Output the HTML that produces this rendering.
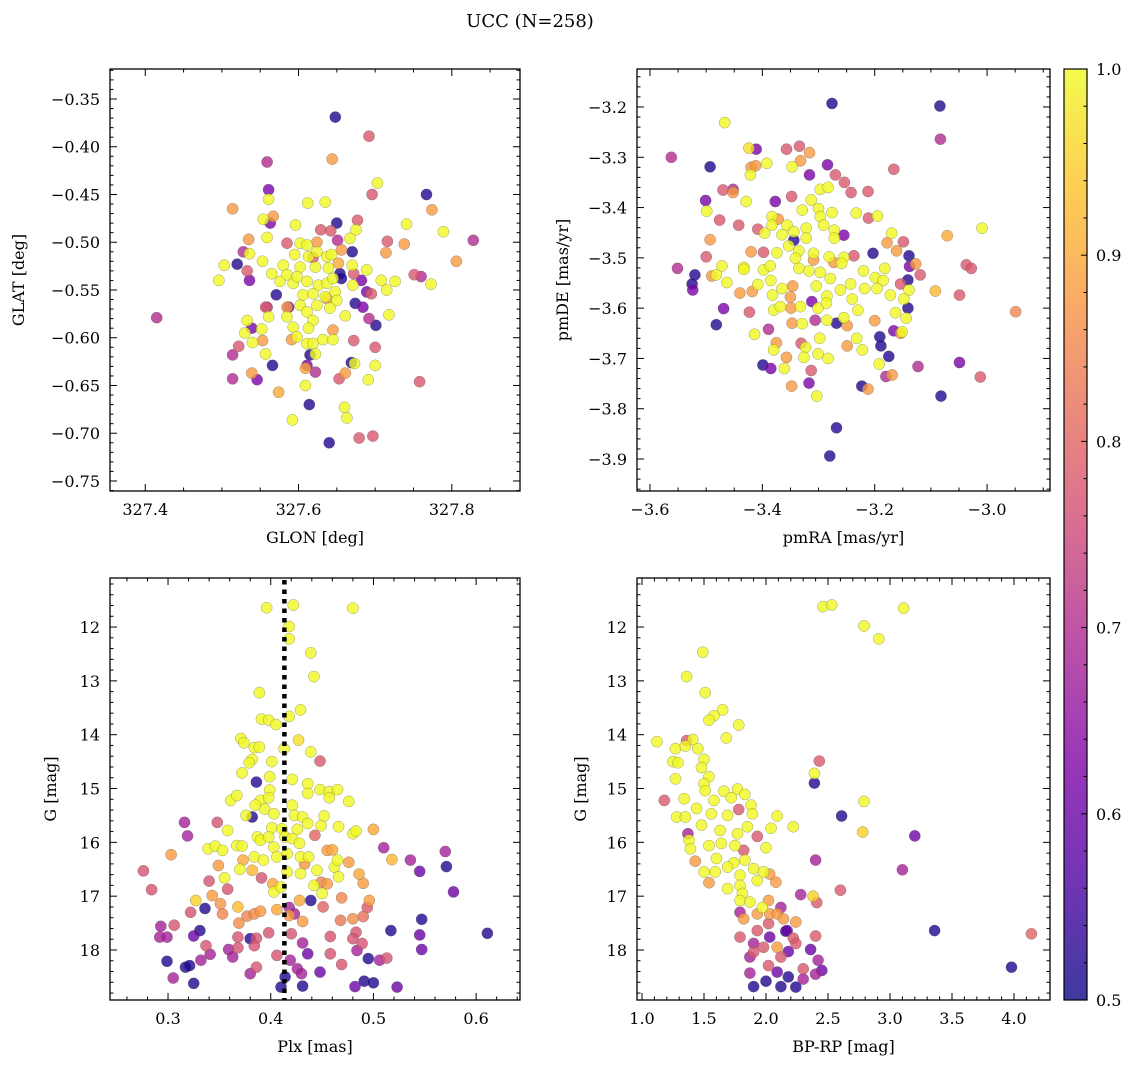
<!DOCTYPE html>
<html><head><meta charset="utf-8"><style>
html,body{margin:0;padding:0;background:#fff;}
svg{display:block;font-family:"DejaVu Serif","Liberation Serif",serif;}
</style></head><body>
<svg id="fig" width="1136" height="1068" viewBox="0 0 1136 1068" xmlns="http://www.w3.org/2000/svg">
<text x="530" y="27" text-anchor="middle" font-size="18">UCC (N=258)</text>
<defs>
<linearGradient id="cbgrad" x1="0" y1="1" x2="0" y2="0"></linearGradient>
</defs>
</svg>
<script>
// ---------- Panel 1: GLON / GLAT ----------
const p1Lon=[327.648,327.767,327.650,327.670,327.520,327.654,327.656,327.571,327.674,327.701,327.566,327.669,327.614,327.640,327.615,
327.561,327.563,327.536,327.539,327.684,327.682,327.689,327.546,327.611,327.587,
327.415,327.559,327.828,327.528,327.651,327.760,327.514,327.514,327.692,327.622,327.559,
327.692,327.696,327.677,327.629,327.642,327.716,327.585,327.533,327.672,327.751,327.522,327.557,327.672,327.700,327.653,327.758,327.679,327.697,327.695,327.619,
327.644,327.514,327.567,327.774,327.535,327.714,327.738,327.806,327.553,327.591,327.539,327.661,327.574,327.609,327.645,327.624,327.652,327.656,327.585,327.637,
327.703,327.612,327.635,327.561,327.554,327.596,327.559,327.675,327.667,327.741,327.789,327.536,327.503,327.496,327.553,327.565,327.580,327.602,327.611,327.595,327.613,327.624,327.637,327.643,327.602,327.622,327.639,327.670,327.689,327.576,327.593,327.611,327.626,327.637,327.648,327.671,327.708,327.715,327.726,327.773,327.606,327.619,327.635,327.650,327.602,327.624,327.641,327.611,327.585,327.561,327.533,327.619,327.661,327.718,327.593,327.613,327.552,327.530,327.598,327.611,327.619,327.632,327.645,327.540,327.557,327.622,327.673,327.700,327.609,327.691,327.660,327.663,327.592,327.645,327.585,327.598];
const p1Lat=[-0.369,-0.450,-0.480,-0.510,-0.523,-0.533,-0.538,-0.555,-0.564,-0.587,-0.629,-0.626,-0.670,-0.710,-0.618,
-0.445,-0.480,-0.540,-0.590,-0.568,-0.540,-0.552,-0.644,-0.629,-0.568,
-0.579,-0.416,-0.498,-0.510,-0.498,-0.536,-0.643,-0.618,-0.580,-0.636,-0.568,
-0.389,-0.450,-0.477,-0.487,-0.488,-0.499,-0.501,-0.530,-0.533,-0.534,-0.609,-0.568,-0.603,-0.610,-0.643,-0.646,-0.705,-0.703,-0.554,-0.516,
-0.413,-0.465,-0.473,-0.466,-0.497,-0.511,-0.502,-0.520,-0.603,-0.602,-0.637,-0.637,-0.657,-0.632,-0.592,-0.500,-0.522,-0.508,-0.568,-0.559,
-0.438,-0.459,-0.458,-0.455,-0.476,-0.482,-0.495,-0.487,-0.496,-0.481,-0.489,-0.512,-0.524,-0.540,-0.520,-0.533,-0.524,-0.501,-0.503,-0.513,-0.515,-0.510,-0.515,-0.513,-0.526,-0.526,-0.527,-0.524,-0.529,-0.541,-0.543,-0.541,-0.545,-0.543,-0.552,-0.545,-0.540,-0.550,-0.541,-0.544,-0.555,-0.554,-0.557,-0.561,-0.566,-0.566,-0.569,-0.573,-0.578,-0.578,-0.582,-0.582,-0.577,-0.576,-0.589,-0.590,-0.591,-0.595,-0.599,-0.606,-0.606,-0.602,-0.602,-0.605,-0.617,-0.617,-0.627,-0.629,-0.650,-0.644,-0.673,-0.684,-0.686,-0.538,-0.534,-0.536];
const p1Prob=[0.52,0.52,0.52,0.52,0.52,0.52,0.52,0.52,0.52,0.52,0.52,0.52,0.52,0.52,0.52,
0.62,0.62,0.62,0.62,0.62,0.62,0.62,0.62,0.62,0.62,
0.70,0.70,0.70,0.70,0.70,0.70,0.70,0.70,0.70,0.70,0.70,
0.78,0.78,0.78,0.78,0.78,0.78,0.78,0.78,0.78,0.78,0.78,0.78,0.78,0.78,0.78,0.78,0.78,0.78,0.78,0.78,
0.88,0.88,0.88,0.88,0.88,0.88,0.88,0.88,0.88,0.88,0.88,0.88,0.90,0.90,0.88,0.88,0.90,0.88,0.88,0.88,
1,1,1,1,1,1,1,1,1,1,1,1,1,1,1,1,1,1,1,1,1,1,1,1,1,1,1,1,1,1,1,1,1,1,1,1,1,1,1,1,1,1,1,1,1,1,1,1,1,1,1,1,1,1,1,1,1,1,1,1,1,1,1,1,1,1,1,1,1,1,1,1,1,1,1,1,1,1,1];

// ---------- Panel 2: pmRA / pmDE ----------
const p2Ra=[-3.276,-3.084,-3.493,-3.520,-3.525,-3.482,-3.203,-3.139,-3.141,-3.141,-3.191,-3.189,-3.175,-3.223,-3.082,-3.268,-3.280,-3.399,-3.268,-3.344,
-3.411,-3.284,-3.316,-3.377,-3.501,-3.469,-3.524,-3.385,-3.317,-3.049,-3.312,-3.255,-3.138,-3.166,
-3.562,-3.083,-3.551,-3.452,-3.123,-3.180,-3.306,-3.389,
-3.357,-3.334,-3.166,-3.470,-3.348,-3.242,-3.212,-3.476,-3.442,-3.408,-3.211,-3.149,-3.398,-3.500,-3.037,-3.028,-3.119,-3.049,-3.423,-3.331,-3.313,-3.012,-3.237,-3.270,-3.254,-3.154,
-3.316,-3.420,-3.412,-3.332,-3.452,-3.493,-3.420,-3.178,-3.161,-3.071,-3.127,-3.490,-3.440,-3.418,-3.346,-3.350,-3.349,-3.347,-3.249,-3.200,-3.249,-3.375,-3.357,-3.348,-3.212,-3.169,-2.949,-3.092,-3.372,-3.309,-3.273,-3.154,
-3.467,-3.424,-3.392,-3.421,-3.347,-3.297,-3.283,-3.429,-3.499,-3.313,-3.329,-3.300,-3.276,-3.233,-3.195,-3.383,-3.383,-3.356,-3.344,-3.322,-3.297,-3.291,-3.272,-3.396,-3.365,-3.322,-3.272,-3.170,-3.353,-3.374,-3.335,-3.309,-3.281,-3.255,-3.341,-3.472,-3.433,-3.398,-3.386,-3.335,-3.317,-3.297,-3.259,-3.220,-3.182,-3.482,-3.463,-3.385,-3.408,-3.279,-3.243,-3.199,-3.185,-3.365,-3.304,-3.261,-3.218,-3.196,-3.139,-3.382,-3.172,-3.285,-3.240,-3.148,-3.380,-3.368,-3.332,-3.301,-3.286,-3.230,-3.163,-3.144,-3.255,-3.329,-3.285,-3.414,-3.298,-3.232,-3.222,-3.323,-3.380,-3.326,-3.301,-3.283,-3.361,-3.192,-3.303,-3.009,-3.151,-3.433];
const p2De=[-3.193,-3.198,-3.319,-3.534,-3.552,-3.633,-3.491,-3.496,-3.544,-3.600,-3.657,-3.675,-3.696,-3.755,-3.775,-3.838,-3.894,-3.713,-3.630,-3.465,
-3.284,-3.315,-3.335,-3.388,-3.386,-3.601,-3.564,-3.720,-3.749,-3.708,-3.587,-3.455,-3.517,-3.645,
-3.300,-3.264,-3.521,-3.364,-3.716,-3.736,-3.624,-3.642,
-3.284,-3.278,-3.324,-3.365,-3.378,-3.370,-3.368,-3.425,-3.435,-3.443,-3.421,-3.468,-3.489,-3.498,-3.514,-3.521,-3.534,-3.574,-3.608,-3.670,-3.724,-3.737,-3.496,-3.335,-3.350,-3.552,
-3.291,-3.320,-3.317,-3.307,-3.370,-3.464,-3.488,-3.470,-3.486,-3.456,-3.512,-3.536,-3.570,-3.567,-3.556,-3.578,-3.600,-3.630,-3.635,-3.625,-3.675,-3.669,-3.698,-3.755,-3.761,-3.733,-3.607,-3.566,-3.423,-3.504,-3.509,-3.650,
-3.231,-3.282,-3.312,-3.335,-3.319,-3.364,-3.360,-3.388,-3.407,-3.385,-3.405,-3.402,-3.410,-3.411,-3.417,-3.418,-3.435,-3.435,-3.448,-3.441,-3.418,-3.435,-3.445,-3.451,-3.454,-3.461,-3.461,-3.451,-3.476,-3.490,-3.486,-3.491,-3.498,-3.499,-3.501,-3.516,-3.519,-3.524,-3.516,-3.521,-3.526,-3.529,-3.511,-3.526,-3.521,-3.534,-3.549,-3.545,-3.553,-3.541,-3.552,-3.539,-3.545,-3.561,-3.556,-3.564,-3.561,-3.561,-3.564,-3.574,-3.574,-3.576,-3.582,-3.582,-3.604,-3.597,-3.597,-3.600,-3.590,-3.604,-3.609,-3.620,-3.619,-3.631,-3.624,-3.652,-3.660,-3.660,-3.683,-3.678,-3.683,-3.698,-3.691,-3.700,-3.720,-3.711,-3.775,-3.441,-3.647,-3.523];
const p2Prob=[0.52,0.52,0.52,0.52,0.52,0.52,0.52,0.52,0.52,0.52,0.52,0.52,0.52,0.52,0.52,0.52,0.52,0.52,0.52,0.52,
0.62,0.62,0.62,0.62,0.62,0.62,0.62,0.62,0.62,0.62,0.62,0.62,0.62,0.62,
0.70,0.70,0.70,0.70,0.70,0.70,0.70,0.70,
0.78,0.78,0.78,0.78,0.78,0.78,0.78,0.78,0.78,0.78,0.78,0.78,0.78,0.78,0.78,0.78,0.78,0.78,0.78,0.78,0.78,0.78,0.78,0.78,0.78,0.78,
0.88,0.88,0.88,0.88,0.88,0.88,0.88,0.88,0.88,0.90,0.88,0.88,0.88,0.88,0.88,0.88,0.88,0.88,0.88,0.88,0.88,0.88,0.88,0.88,0.88,0.88,0.85,0.92,0.88,0.88,0.88,0.88,
1,0.97,1,1,1,1,1,1,1,1,1,1,1,1,1,1,1,1,1,1,1,1,1,1,1,1,1,1,1,1,1,1,1,1,1,1,1,1,1,1,1,1,1,1,1,1,1,1,1,1,1,1,1,1,1,1,1,1,1,1,1,1,1,1,1,1,1,1,1,1,1,1,1,1,1,1,1,1,1,1,1,1,1,1,1,1,1,1,1];

// ---------- Panel 3: Plx / G ----------
const p3Plx=[0.396,0.422,0.480,0.418,0.418,0.439,0.442,0.389,0.429,0.418,0.391,0.398,0.405,0.427,0.371,0.374,0.384,0.389,0.413,0.439,0.382,0.379,0.401,0.372,0.399,0.421,0.436,0.436,0.448,0.457,0.465,0.457,0.399,0.476,0.361,0.367,0.390,0.398,0.394,0.376,0.385,0.421,0.403,0.423,0.431,0.436,0.452,0.449,0.466,0.480,0.483,0.358,0.401,0.411,0.426,0.387,0.390,0.398,0.414,0.421,0.428,0.403,0.384,0.393,0.406,0.416,0.429,0.437,0.445,0.462,0.466,0.370,0.355,0.367,0.372,0.339,0.346,0.353,0.416,0.429,0.403,0.410,0.442,0.450,0.465,
0.500,0.518,0.486,0.490,0.496,0.469,0.451,0.428,0.406,0.390,0.384,0.377,0.369,0.353,0.343,0.351,0.327,0.368,0.303,0.349,0.382,0.402,0.418,0.431,0.468,0.480,0.490,0.494,0.443,0.455,0.460,0.476,0.449,0.455,0.433,0.373,
0.276,0.284,0.348,0.340,0.358,0.322,0.306,0.337,0.368,0.368,0.386,0.384,0.398,0.406,0.386,0.420,0.458,0.458,0.469,0.483,0.480,0.489,0.513,0.391,0.448,
0.316,0.293,0.292,0.299,0.332,0.341,0.359,0.363,0.380,0.431,0.426,0.430,0.484,0.506,0.510,0.536,0.570,0.305,0.319,0.418,0.419,0.423,
0.545,0.578,0.547,0.545,0.436,0.482,0.523,0.448,0.325,
0.571,0.547,0.611,0.517,0.299,0.317,0.321,0.325,0.331,0.336,0.380,0.410,0.414,0.431,0.491,0.500,0.495,0.439,0.386,0.382];
const p3G=[11.64,11.59,11.65,11.99,12.22,12.48,12.92,13.22,13.54,13.66,13.71,13.73,13.81,14.10,14.07,14.15,14.24,14.23,14.26,14.32,14.46,14.52,14.50,14.71,14.78,14.83,14.91,15.09,15.02,15.06,15.02,15.17,15.03,15.24,15.22,15.13,15.22,15.17,15.38,15.50,15.31,15.31,15.47,15.50,15.53,15.65,15.51,15.69,15.71,15.84,15.79,15.78,15.73,15.75,15.76,15.90,15.96,15.90,15.90,15.93,16.02,16.09,16.27,16.33,16.27,16.21,16.27,16.27,16.52,16.46,16.64,16.50,16.66,16.06,16.07,16.12,16.07,16.15,16.55,16.58,16.92,16.83,16.80,16.95,16.33,
15.76,16.32,16.59,16.76,17.08,17.03,17.20,17.08,17.25,17.28,17.33,17.37,17.50,17.33,16.99,17.14,17.08,17.20,16.23,16.43,16.52,16.77,17.36,17.47,17.45,17.42,17.38,17.21,15.87,16.15,16.14,16.37,16.74,16.77,16.40,16.33,
16.53,16.88,15.63,16.72,16.87,17.30,17.54,17.92,17.76,17.96,17.78,17.92,17.68,18.10,18.32,17.70,17.75,18.07,18.27,17.67,17.79,17.88,18.15,16.66,14.49,
15.63,17.56,17.76,17.76,18.19,18.08,17.99,18.13,18.44,17.87,18.35,18.44,18.01,18.19,16.10,16.33,16.17,18.52,15.88,17.21,18.19,17.33,
16.54,16.92,17.99,17.72,18.07,18.68,18.69,18.41,17.74,
16.45,17.43,17.69,17.64,18.21,18.32,18.29,18.62,17.64,17.23,17.79,18.69,18.50,18.67,18.58,18.61,18.16,17.08,14.88,15.53];
const p3Prob=[1,1,1,1,1,1,1,1,1,1,1,1,1,0.97,1,1,1,1,1,1,1,1,1,1,1,1,1,1,1,1,1,1,1,1,1,1,1,1,1,1,1,1,1,1,1,1,1,1,1,1,1,1,1,1,1,1,1,1,1,1,1,1,1,1,1,1,1,1,1,1,1,1,1,1,1,1,1,1,1,1,1,1,1,1,1,
0.90,0.92,0.90,0.88,0.88,0.85,0.80,0.90,0.90,0.88,0.86,0.85,0.86,0.85,0.88,0.87,0.95,0.93,0.88,0.88,0.92,0.90,0.88,0.88,0.83,0.86,0.82,0.78,0.80,0.88,0.90,0.88,0.85,0.88,0.87,0.90,
0.77,0.77,0.77,0.77,0.77,0.77,0.77,0.77,0.77,0.77,0.77,0.77,0.77,0.77,0.77,0.77,0.77,0.77,0.77,0.77,0.77,0.77,0.77,0.77,0.78,
0.68,0.68,0.68,0.68,0.68,0.68,0.68,0.68,0.68,0.68,0.68,0.68,0.68,0.68,0.68,0.68,0.68,0.68,0.68,0.68,0.68,0.68,
0.60,0.60,0.60,0.60,0.60,0.60,0.60,0.60,0.60,
0.52,0.52,0.52,0.52,0.52,0.52,0.52,0.52,0.52,0.52,0.52,0.52,0.52,0.52,0.52,0.52,0.52,0.52,0.52,0.52];
const plxMean=[0.4133];

// ---------- Panel 4: BP-RP / G ----------
const p4Col=[2.46,2.53,3.11,2.79,2.91,1.49,1.36,1.51,1.65,1.58,1.54,1.78,1.68,1.12,1.27,1.41,1.45,1.35,1.25,1.29,1.50,1.48,1.27,1.54,1.50,1.51,1.66,1.77,1.83,1.72,1.58,1.34,1.44,1.88,1.28,1.35,1.56,1.69,1.89,2.09,2.22,2.04,2.39,2.79,2.78,1.48,1.63,1.77,1.85,1.38,1.39,1.54,1.64,1.75,2.00,1.60,1.74,1.83,1.50,1.59,1.69,1.90,1.98,1.79,1.93,1.69,1.79,1.81,1.79,1.87,1.97,2.38,
2.08,2.03,1.54,1.43,1.93,2.03,2.09,2.14,2.24,1.82,2.02,2.09,
1.18,1.36,2.43,1.78,2.60,4.14,2.40,1.79,1.93,2.02,2.22,1.90,1.98,2.12,2.02,2.24,2.30,1.93,1.82,2.41,
2.40,3.10,2.28,2.12,1.79,1.37,1.87,1.87,2.30,2.42,2.40,1.90,
3.20,2.36,2.45,2.03,2.17,2.18,2.09,
2.39,2.61,3.36,3.98,1.90,2.00,2.12,2.18,2.24,2.16];
const p4G=[11.62,11.59,11.65,11.98,12.22,12.47,12.92,13.22,13.54,13.65,13.73,13.82,14.06,14.13,14.26,14.09,14.26,14.21,14.50,14.52,14.46,14.61,14.82,14.78,14.91,15.04,15.05,15.01,15.11,15.17,15.22,15.19,15.37,15.31,15.53,15.53,15.47,15.50,15.47,15.51,15.71,15.74,14.72,15.24,15.81,15.68,15.78,15.84,15.71,15.96,16.12,16.06,16.02,16.06,16.10,16.30,16.38,16.33,16.55,16.55,16.46,16.49,16.55,16.61,16.71,16.86,16.80,16.95,17.08,17.11,17.21,17.00,
16.74,16.59,16.75,16.35,17.33,17.33,17.33,17.42,17.48,17.42,17.08,17.95,
15.22,14.11,14.49,15.39,16.89,17.70,17.74,17.76,17.64,17.51,17.78,18.04,17.95,18.13,18.29,17.88,18.35,15.89,16.15,17.12,
16.33,16.51,16.97,17.21,17.30,15.84,18.13,18.43,18.54,18.19,18.45,17.88,
15.88,17.99,18.38,17.76,17.64,18.03,18.41,
14.90,15.51,17.64,18.32,18.68,18.58,18.68,18.50,18.69,17.65];
const p4Prob=[1,1,1,1,1,1,1,1,1,1,1,1,1,1,1,1,1,1,1,1,1,1,1,1,1,1,1,1,1,1,1,1,1,1,1,1,1,1,1,1,1,1,1,1,0.95,1,1,1,1,1,1,1,1,1,1,1,1,1,1,1,1,1,1,1,1,1,1,1,1,1,1,0.95,
0.88,0.88,0.88,0.88,0.88,0.88,0.88,0.88,0.88,0.88,0.88,0.88,
0.78,0.78,0.78,0.78,0.78,0.80,0.78,0.78,0.78,0.78,0.78,0.78,0.78,0.78,0.78,0.78,0.78,0.78,0.78,0.78,
0.68,0.68,0.68,0.68,0.68,0.68,0.68,0.68,0.68,0.68,0.68,0.68,
0.60,0.60,0.60,0.60,0.60,0.60,0.60,
0.52,0.52,0.52,0.52,0.52,0.52,0.52,0.52,0.52,0.52];

// ---------- tick labels ----------
const p1XTicks=[327.4,327.6,327.8];
const p1YTicks=[-0.35,-0.40,-0.45,-0.50,-0.55,-0.60,-0.65,-0.70,-0.75];
const p2XTicks=[-3.6,-3.4,-3.2,-3.0];
const p2YTicks=[-3.2,-3.3,-3.4,-3.5,-3.6,-3.7,-3.8,-3.9];
const p3XTicks=[0.3,0.4,0.5,0.6];
const gTicks=[12,13,14,15,16,17,18];
const p4XTicks=[1.0,1.5,2.0,2.5,3.0,3.5,4.0];
const cbTicks=[0.5,0.6,0.7,0.8,0.9,1.0];

const NS="http://www.w3.org/2000/svg";
const svg=document.getElementById('fig');
function mk(tag,attrs,parent){const e=document.createElementNS(NS,tag);for(const k in attrs)e.setAttribute(k,attrs[k]);(parent||svg).appendChild(e);return e;}
const stops=[[13,8,135],[76,2,161],[126,3,168],[169,35,149],[204,71,120],[229,107,93],[248,149,64],[253,195,40],[240,249,33]];
function plasma(t){if(!isFinite(t))t=1;t=Math.max(0,Math.min(1,t));const s=t*8,i=Math.min(7,Math.floor(s)),f=s-i;const a=stops[i],b=stops[i+1];
return 'rgb('+[0,1,2].map(k=>Math.round(a[k]+(b[k]-a[k])*f)).join(',')+')';}
function fmt(v,d){return (v<0?'\u2212':'')+Math.abs(v).toFixed(d);}

function panel(cfg){
  const g=mk('g',{});
  
  
  const L=cfg.L,R=cfg.R,T=cfg.T,B=cfg.B;
  const sx=v=>L+(v-cfg.x0)/(cfg.x1-cfg.x0)*(R-L);
  const sy=v=>cfg.yInv? T+(v-cfg.y0)/(cfg.y1-cfg.y0)*(B-T) : B-(v-cfg.y0)/(cfg.y1-cfg.y0)*(B-T);
  const n=Math.min(cfg.xs.length,cfg.ys.length);
  const pr=i=>(cfg.ps[i]===undefined?1:cfg.ps[i]);
  const idx=[];for(let i=0;i<n;i++)idx.push(i);
  idx.sort((a,b)=>pr(a)-pr(b));
  const pg=mk('g',{},g);
  
  
  idx.forEach(i=>{
    const c=mk('circle',{cx:sx(cfg.xs[i]).toFixed(1),cy:sy(cfg.ys[i]).toFixed(1),r:5.6,fill:plasma((pr(i)-0.5)/0.5),'fill-opacity':0.8,stroke:'#555','stroke-opacity':0.55,'stroke-width':0.5},pg);
    
    
  });
  if(cfg.extra) cfg.extra(g,sx,sy);
  const fr=mk('rect',{x:L,y:T,width:R-L,height:B-T,fill:'none',stroke:'#000','stroke-width':1.3},g);
  
  
  const tg=mk('g',{stroke:'#000','stroke-width':1},g);
  const eps=1e-9;
  const xs0=Math.ceil(cfg.x0/cfg.xmin-eps);
  for(let k=xs0;k*cfg.xmin<=cfg.x1+eps;k++){
    const v=k*cfg.xmin; const x=sx(v); if(x<L-0.5||x>R+0.5) continue;
    const major=Math.abs(v/cfg.xmaj-Math.round(v/cfg.xmaj))<1e-6; const len=major?7:3.5;
    mk('line',{x1:x,y1:B,x2:x,y2:B-len},tg); mk('line',{x1:x,y1:T,x2:x,y2:T+len},tg);
  }
  const ylo=Math.min(cfg.y0,cfg.y1),yhi=Math.max(cfg.y0,cfg.y1);
  for(let k=Math.ceil(ylo/cfg.ymin-eps);k*cfg.ymin<=yhi+eps;k++){
    const v=k*cfg.ymin; const y=sy(v); if(y<T-0.5||y>B+0.5) continue;
    const major=Math.abs(v/cfg.ymaj-Math.round(v/cfg.ymaj))<1e-6; const len=major?7:3.5;
    mk('line',{x1:L,y1:y,x2:L+len,y2:y},tg); mk('line',{x1:R,y1:y,x2:R-len,y2:y},tg);
  }
  cfg.xt.forEach(v=>{const t=mk('text',{x:sx(v),y:B+24,'text-anchor':'middle','font-size':16},g);t.textContent=fmt(v,cfg.xd);
    });
  cfg.yt.forEach(v=>{const t=mk('text',{x:L-10,y:sy(v)+6,'text-anchor':'end','font-size':16},g);t.textContent=fmt(v,cfg.yd);
    });
  const xl=mk('text',{x:(L+R)/2,y:B+52,'text-anchor':'middle','font-size':16},g);xl.textContent=cfg.xlab;
  
  const yl=mk('text',{x:0,y:0,'text-anchor':'middle','font-size':16,transform:'translate('+cfg.ylx+','+(T+B)/2+') rotate(-90)'},g);yl.textContent=cfg.ylab;
  
}

panel({name:'glon-glat-panel',L:110,R:520,T:69,B:491,x0:327.354,x1:327.889,y0:-0.7605,y1:-0.3186,xs:p1Lon,ys:p1Lat,ps:p1Prob,
  xmaj:0.2,xmin:0.05,ymaj:0.05,ymin:0.01,xt:p1XTicks,yt:p1YTicks,xd:1,yd:2,xlab:'GLON [deg]',ylab:'GLAT [deg]',ylx:24});
panel({name:'pm-panel',L:637,R:1050,T:69,B:491,x0:-3.6231,x1:-2.888,y0:-3.9636,y1:-3.1245,xs:p2Ra,ys:p2De,ps:p2Prob,
  xmaj:0.2,xmin:0.05,ymaj:0.1,ymin:0.02,xt:p2XTicks,yt:p2YTicks,xd:1,yd:1,xlab:'pmRA [mas/yr]',ylab:'pmDE [mas/yr]',ylx:568});
panel({name:'plx-g-panel',L:110,R:520,T:578,B:1000,x0:0.2435,x1:0.6427,y0:11.089,y1:18.929,yInv:true,xs:p3Plx,ys:p3G,ps:p3Prob,
  xmaj:0.1,xmin:0.02,ymaj:1,ymin:0.2,xt:p3XTicks,yt:gTicks,xd:1,yd:0,xlab:'Plx [mas]',ylab:'G [mag]',ylx:56,
  extra:(g,sx,sy)=>{plxMean.forEach(m=>{const l=mk('line',{x1:sx(m),x2:sx(m),y1:580,y2:1000,stroke:'#000','stroke-width':4.5,'stroke-dasharray':'4.5 5'},g);
    });}});
panel({name:'cmd-panel',L:637,R:1050,T:578,B:1000,x0:0.9597,x1:4.2903,y0:11.089,y1:18.929,yInv:true,xs:p4Col,ys:p4G,ps:p4Prob,
  xmaj:0.5,xmin:0.1,ymaj:1,ymin:0.2,xt:p4XTicks,yt:gTicks,xd:1,yd:0,xlab:'BP-RP [mag]',ylab:'G [mag]',ylx:586});

// colorbar
const grad=document.getElementById('cbgrad');
for(let i=0;i<=16;i++){mk('stop',{offset:(i/16),'stop-color':plasma(i/16),'stop-opacity':0.8},grad);}
const cb=mk('g',{});


const CT=69,CB=1000,CL=1064,CR=1087;
mk('rect',{x:CL,y:CT,width:CR-CL,height:CB-CT,fill:'url(#cbgrad)',stroke:'#000','stroke-width':1.2},cb);
const cy=v=>CB-(v-0.5)/0.5*(CB-CT);
for(let k=0;k<=25;k++){const v=0.5+k*0.02;const y=cy(v);const major=k%5===0;
  mk('line',{x1:CR,y1:y,x2:CR-(major?6:3.5),y2:y,stroke:'#000','stroke-width':1},cb);}
cbTicks.forEach(v=>{const t=mk('text',{x:1096,y:cy(v)+6,'font-size':16},cb);t.textContent=v.toFixed(1);
  });
</script>
</body></html>
